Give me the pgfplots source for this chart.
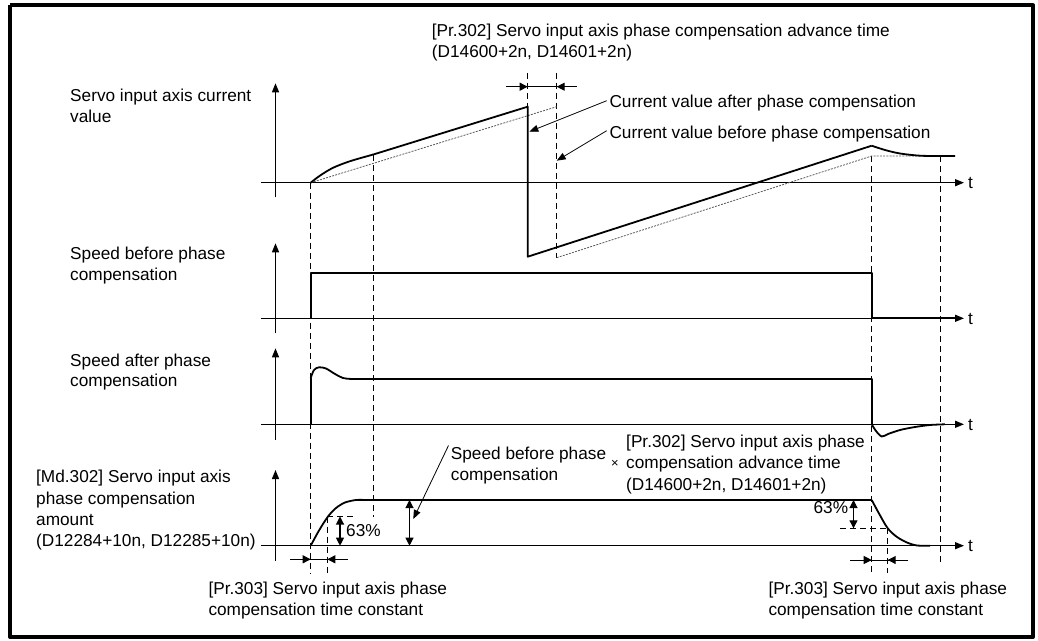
\documentclass[border=0pt]{standalone}
\usepackage{fontspec}
\setmainfont{Liberation Sans}
\usepackage{pgfplots}
\pgfplotsset{compat=1.18}
\usetikzlibrary{arrows.meta}

\begin{document}
\begin{tikzpicture}[font=\fontsize{17.3}{21}\selectfont]
\begin{axis}[
    scale only axis,
    width=1038bp, height=641bp,
    xmin=0, xmax=1038,
    ymin=0, ymax=641,
    y dir=reverse,
    hide axis,
    clip=false,
    every axis plot/.append style={line join=round},
    main/.style={black, line width=1.8bp},
    ax/.style={black, line width=1.3bp, -{Triangle[length=9bp,width=7bp]}},
    guide/.style={black, line width=1bp, dash pattern=on 6bp off 4bp},
    before/.style={black!65, line width=0.8bp, dash pattern=on 2bp off 1.2bp},
    lead/.style={black, line width=0.8bp, -{Triangle[length=9bp,width=7bp]}},
    dim/.style={black, line width=1bp, -{Triangle[length=8bp,width=8bp]}},
    ddim/.style={black, line width=1.1bp, {Triangle[length=8bp,width=8bp]}-{Triangle[length=8bp,width=8bp]}},
]
% page extent and frame
\addplot[draw=none] coordinates {(0,0) (1038,641)};
\addplot[black, line width=4bp] coordinates {(10,5.5) (1033,5.5) (1033,637) (10,637) (10,5.5)};

% axes
\addplot[ax] coordinates {(275.5,197.3) (275.5,83.3)};
\addplot[ax] coordinates {(261,182.7) (964,182.7)};
\addplot[ax] coordinates {(275.5,333) (275.5,243.3)};
\addplot[ax] coordinates {(261,318.3) (964,318.3)};
\addplot[ax] coordinates {(275.5,440) (275.5,348.3)};
\addplot[ax] coordinates {(261,424.3) (964,424.3)};
\addplot[ax] coordinates {(275.5,560.7) (275.5,470)};
\addplot[ax] coordinates {(261,545.7) (964,545.7)};

% guide lines
\addplot[guide] coordinates {(310.7,182.7) (310.7,573.3)};
\addplot[guide] coordinates {(373.3,155) (373.3,516.5)};
\addplot[guide] coordinates {(327.3,516.5) (327.3,573.3)};
\addplot[guide] coordinates {(327.3,516.5) (354,516.5)};
\addplot[guide] coordinates {(871.7,156) (871.7,573.3)};
\addplot[guide] coordinates {(887.7,528.3) (887.7,573.3)};
\addplot[guide] coordinates {(840,528.3) (887.7,528.3)};
\addplot[guide] coordinates {(940,156) (940,561.7)};
\addplot[guide] coordinates {(527.7,73) (527.7,106.7)};
\addplot[guide] coordinates {(556.7,73) (556.7,257.7)};

% panel 1: current value before phase compensation
\addplot[before] coordinates {(310.7,182.7) (556.7,106.7)};
\addplot[before] coordinates {(556.7,257.7) (871.7,156) (940,156)};
% panel 1: current value after phase compensation
\addplot[main, smooth] coordinates {(310.7,182.7) (320,175.6) (333,167.8) (350,161.2) (373,154.6)};
\addplot[main] coordinates {(373,154.6) (527.7,106.7) (527.7,256.7) (871.7,145.7)};
\addplot[main, smooth] coordinates {(871.7,145.7) (885,150) (900,153.5) (920,155.7) (940,156) (955,156)};

% panel 2: speed before phase compensation
\addplot[main] coordinates {(310.7,318.3) (310.7,272.7) (871.7,272.7) (871.7,318.3) (955,318.3)};

% panel 3: speed after phase compensation
\addplot[main] coordinates {(310.7,424.3) (310.7,378)};
\addplot[main, smooth] coordinates {(310.7,378) (314,370) (319,367.3) (326,368.5) (335,374) (343,378) (352,379) (365,379)};
\addplot[main] coordinates {(365,379) (871.7,379) (871.7,424.3)};
\addplot[main, smooth] coordinates {(871.7,424.3) (876,431) (881.7,436.5) (888,434) (900,430) (915,427) (930,425) (945,424.3)};

% panel 4: phase compensation amount
\addplot[main, smooth] coordinates {(310.7,545.7) (319,530.5) (328,516.5) (336,508) (345,502.5) (356,500) (365,500)};
\addplot[main] coordinates {(365,500) (871.7,500)};
\addplot[main, smooth] coordinates {(871.7,500) (879,513.5) (887.7,528.3) (897,537) (907,542.5) (917,545.5) (930,545.7)};

% dimension arrows
\addplot[black, line width=1bp] coordinates {(506,86.7) (576.7,86.7)};
\addplot[dim] coordinates {(506,86.7) (527.7,86.7)};
\addplot[dim] coordinates {(576.7,86.7) (556.7,86.7)};
\addplot[black, line width=1bp] coordinates {(290,559.3) (348,559.3)};
\addplot[dim] coordinates {(290,559.3) (310.7,559.3)};
\addplot[dim] coordinates {(348,559.3) (327.3,559.3)};
\addplot[black, line width=1bp] coordinates {(850,560) (908.3,560)};
\addplot[dim] coordinates {(850,560) (871.7,560)};
\addplot[dim] coordinates {(908.3,560) (887.7,560)};
\addplot[ddim] coordinates {(340,516.5) (340,545.7)};
\addplot[ddim] coordinates {(409.5,500) (409.5,545.7)};
\addplot[ddim] coordinates {(853.5,500) (853.5,528.3)};

% leader lines
\addplot[lead] coordinates {(606.7,100.7) (529.3,131.7)};
\addplot[lead] coordinates {(606.7,130.7) (556.7,160.7)};
\addplot[lead] coordinates {(448.5,445.5) (413.3,519)};

% texts
\node[anchor=base west, inner sep=0] at (axis cs:431.7,37) {[Pr.302] Servo input axis phase compensation advance time};
\node[anchor=base west, inner sep=0] at (axis cs:431.7,57.5) {(D14600+2n, D14601+2n)};
\node[anchor=base west, inner sep=0] at (axis cs:609.3,107.5) {Current value after phase compensation};
\node[anchor=base west, inner sep=0] at (axis cs:609.3,138.5) {Current value before phase compensation};

\node[anchor=base west, inner sep=0] at (axis cs:70,101.7) {Servo input axis current};
\node[anchor=base west, inner sep=0] at (axis cs:70,122) {value};
\node[anchor=base west, inner sep=0] at (axis cs:70,259.5) {Speed before phase};
\node[anchor=base west, inner sep=0] at (axis cs:70,280.5) {compensation};
\node[anchor=base west, inner sep=0] at (axis cs:70,366) {Speed after phase};
\node[anchor=base west, inner sep=0] at (axis cs:70,386.5) {compensation};
\node[anchor=base west, inner sep=0] at (axis cs:36,482.7) {[Md.302] Servo input axis};
\node[anchor=base west, inner sep=0] at (axis cs:36,504) {phase compensation};
\node[anchor=base west, inner sep=0] at (axis cs:36,525.3) {amount};
\node[anchor=base west, inner sep=0] at (axis cs:36,546.2) {(D12284+10n, D12285+10n)};

\node[anchor=base west, inner sep=0] at (axis cs:450.7,459.3) {Speed before phase};
\node[anchor=base west, inner sep=0] at (axis cs:450.7,480) {compensation};
\node[anchor=center, inner sep=0] at (axis cs:615,464) {\fontsize{13}{15}\selectfont ×};
\node[anchor=base west, inner sep=0] at (axis cs:626,447.3) {[Pr.302] Servo input axis phase};
\node[anchor=base west, inner sep=0] at (axis cs:626,468.7) {compensation advance time};
\node[anchor=base west, inner sep=0] at (axis cs:626,490) {(D14600+2n, D14601+2n)};

\node[anchor=base west, inner sep=0] at (axis cs:346,536.7) {63\%};
\node[anchor=base east, inner sep=0] at (axis cs:848.3,513.3) {63\%};

\node[anchor=base west, inner sep=0] at (axis cs:208.3,594) {[Pr.303] Servo input axis phase};
\node[anchor=base west, inner sep=0] at (axis cs:208.3,615.5) {compensation time constant};
\node[anchor=base west, inner sep=0] at (axis cs:768.3,594) {[Pr.303] Servo input axis phase};
\node[anchor=base west, inner sep=0] at (axis cs:768.3,615.5) {compensation time constant};

\node[anchor=base west, inner sep=0] at (axis cs:968,188.7) {t};
\node[anchor=base west, inner sep=0] at (axis cs:968,324.3) {t};
\node[anchor=base west, inner sep=0] at (axis cs:968,430.3) {t};
\node[anchor=base west, inner sep=0] at (axis cs:968,551.7) {t};
\end{axis}
\end{tikzpicture}
\end{document}
